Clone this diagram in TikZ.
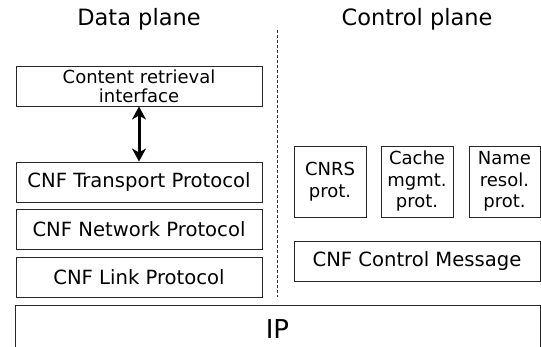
\documentclass[tikz,border=0pt]{standalone}
\usepackage{fontspec}
\setmainfont{DejaVu Sans}
\usetikzlibrary{arrows.meta}
\begin{document}
\begin{tikzpicture}[x=1pt,y=-1pt,
  layer/.style={draw=black!85, line width=1pt, inner sep=0pt, align=center,
    font=\fontsize{19.6}{22}\selectfont},
  widebox/.style={layer, minimum width=246pt, minimum height=40pt},
  smallbox/.style={layer, minimum height=71pt,
    font=\fontsize{18}{21.5}\selectfont},
  title/.style={font=\fontsize{22.5}{26}\selectfont}]
\useasboundingbox (0,0) rectangle (541,346);
\clip (0,0) rectangle (541,346);

% column headings
\node[title] (dtitle) at (139,19) {Data plane};
\node[title] (ctitle) at (417,19) {Control plane};

% data plane stack
\node[widebox, font=\fontsize{18}{19}\selectfont] (cri) at (139,86) {Content retrieval\\interface};
\node[widebox] (tp) at (139,182) {CNF Transport Protocol};
\node[widebox] (np) at (139,229) {CNF Network Protocol};
\node[widebox] (lp) at (139,277) {CNF Link Protocol};

\draw[line width=3pt, {Stealth[length=13pt,width=14pt,inset=4pt]}-{Stealth[length=13pt,width=14pt,inset=4pt]}]
  (cri.south) -- (tp.north);

% control plane
\node[smallbox, minimum width=72pt] (cnrs) at (330,181.5) {CNRS\\prot.};
\node[smallbox, minimum width=72pt] (cache) at (417,181.5) {Cache\\mgmt.\\prot.};
\node[smallbox, minimum width=71pt] (name) at (504.5,181.5) {Name\\resol.\\prot.};
\node[widebox] (ccm) at (417,261) {CNF Control Message};

% separator between the planes
\coordinate (septop) at (277,30);
\coordinate (sepbot) at (277,297);
\draw[line width=1pt, black!80, dash pattern=on 3pt off 2pt] (septop) -- (sepbot);

% shared IP layer
\node[layer, minimum width=525pt, minimum height=48pt, font=\fontsize{26}{30}\selectfont,
  text depth=0pt] (ip) at (277.5,329) {IP};
\end{tikzpicture}
\end{document}
